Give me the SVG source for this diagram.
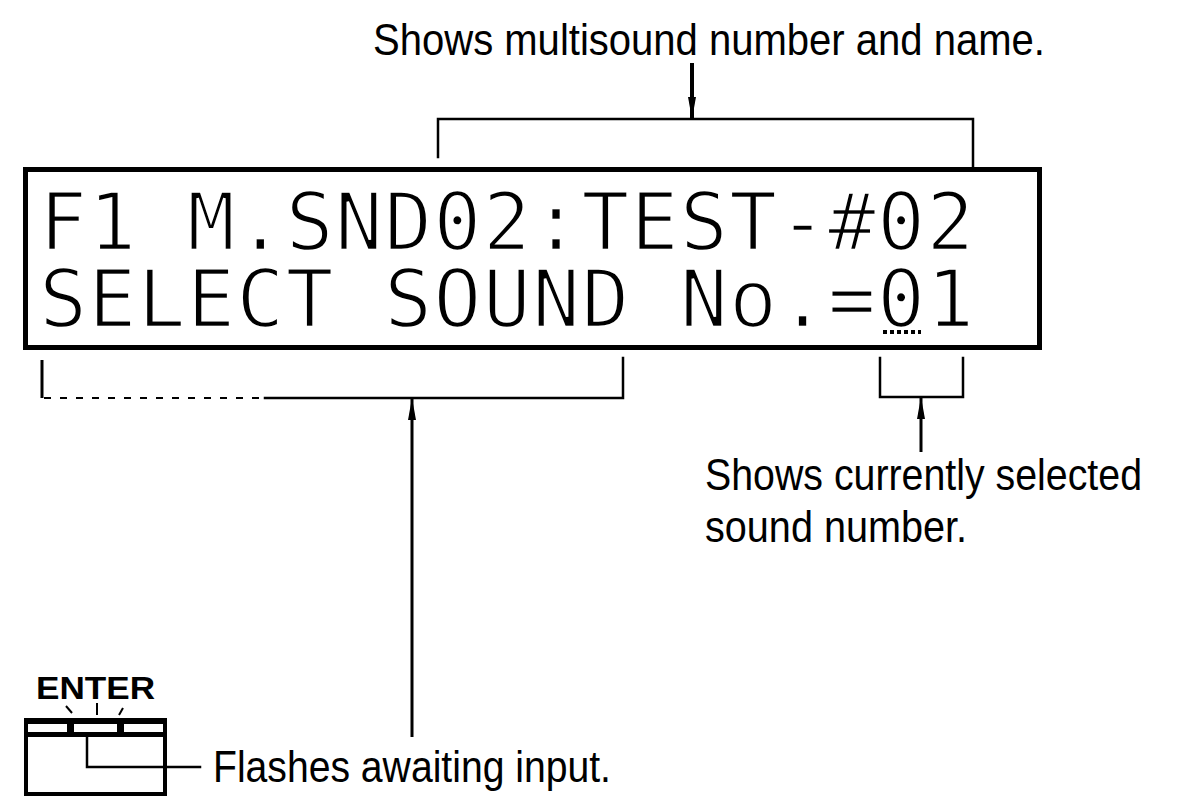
<svg xmlns="http://www.w3.org/2000/svg" width="1179" height="802" viewBox="0 0 1179 802">
  <style>
    .lbl { font-family: "Liberation Sans", Arial, sans-serif; font-size: 44px; fill: #000; }
    .lcd { font-family: "DejaVu Sans Mono", "Liberation Mono", monospace; font-size: 80px; letter-spacing: 1.13px; fill: #000; stroke: #fff; stroke-width: 2.5px; }
    .ln { fill: none; stroke: #000; stroke-width: 2.5; stroke-linecap: square; }
    .shaft { fill: none; stroke: #000; stroke-width: 3; }
  </style>
  <defs>
    <marker id="arrow" viewBox="0 0 22 10" refX="22" refY="5" markerWidth="22" markerHeight="10" markerUnits="userSpaceOnUse" orient="auto">
      <path d="M0,1 L22,5 L0,9 z" fill="#000"/>
    </marker>
  </defs>
  <rect width="1179" height="802" fill="#fff"/>

  <g id="label-top">
    <text class="lbl" x="373" y="55" textLength="672" lengthAdjust="spacingAndGlyphs">Shows multisound number and name.</text>
  </g>

  <g id="display">
    <rect x="25.5" y="169.5" width="1014" height="178" fill="#fff" stroke="#000" stroke-width="5"/>
    <text class="lcd" x="39" y="250">F1 M.SND02:TEST-#02</text>
    <text class="lcd" x="39" y="327">SELECT SOUND No.=01</text>
    <line x1="883" y1="332" x2="921" y2="332" stroke="#000" stroke-width="4" stroke-dasharray="4 3"/>
  </g>

  <g id="label-current">
    <text class="lbl" x="705" y="490" textLength="437" lengthAdjust="spacingAndGlyphs">Shows currently selected</text>
    <text class="lbl" x="705" y="542" textLength="262" lengthAdjust="spacingAndGlyphs">sound number.</text>
  </g>

  <g id="enter-key">
    <text x="36" y="699" font-family="'Liberation Sans', Arial, sans-serif" font-size="31" font-weight="bold" textLength="119" lengthAdjust="spacingAndGlyphs">ENTER</text>
    <line x1="66" y1="706" x2="72" y2="713" stroke="#000" stroke-width="2"/>
    <line x1="97" y1="703" x2="97" y2="715" stroke="#000" stroke-width="2"/>
    <line x1="123" y1="708" x2="119" y2="715" stroke="#000" stroke-width="2"/>
    <rect x="26" y="721" width="139" height="73" fill="#fff" stroke="#000" stroke-width="4"/>
    <rect x="24" y="718" width="143" height="6" fill="#000"/>
    <rect x="24" y="732" width="143" height="5" fill="#000"/>
    <rect x="67" y="720" width="7" height="16" fill="#000"/>
    <rect x="117" y="720" width="7" height="16" fill="#000"/>
  </g>

  <g id="label-flashes">
    <text class="lbl" x="213" y="782" textLength="398" lengthAdjust="spacingAndGlyphs">Flashes awaiting input.</text>
  </g>

  <g id="connectors">
    <!-- top bracket -->
    <polyline class="ln" points="438,157 438,119 973,119 973,167"/>
    <line x1="692" y1="63" x2="692" y2="119" stroke="#000" stroke-width="4" marker-end="url(#arrow)"/>
    <!-- bottom left bracket -->
    <line x1="42" y1="360" x2="42" y2="398" stroke="#000" stroke-width="3"/>
    <line x1="44" y1="398" x2="265" y2="398" stroke="#000" stroke-width="2" stroke-dasharray="7 9"/>
    <polyline class="ln" points="265,398 623,398 623,358"/>
    <line x1="412" y1="737" x2="412" y2="398" class="shaft" marker-end="url(#arrow)"/>
    <!-- bottom right bracket -->
    <polyline class="ln" points="880,358 880,397 963,397 963,358"/>
    <line x1="921" y1="452" x2="921" y2="397" class="shaft" marker-end="url(#arrow)"/>
    <!-- enter leader -->
    <polyline class="ln" points="87,737 87,767 200,767"/>
  </g>
</svg>
